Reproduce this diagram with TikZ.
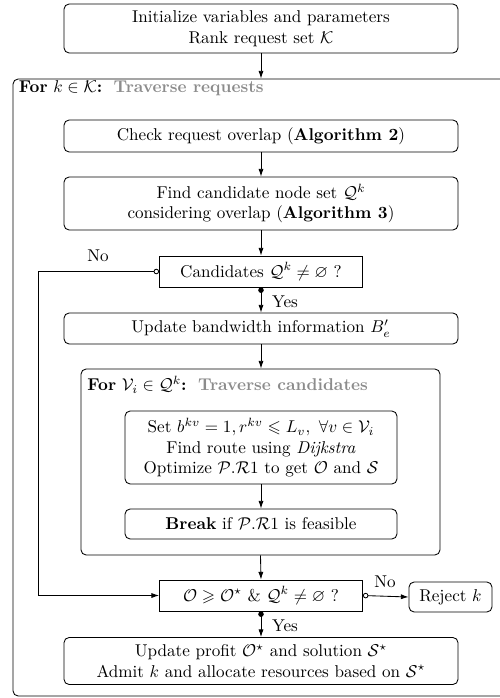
\documentclass[tikz,border=0pt]{standalone}
\usepackage{amsmath,amssymb}
\usetikzlibrary{arrows.meta}
\begin{document}
\def\pu{0.585pt}
\begin{tikzpicture}[x=0.585pt,y=-0.585pt,
  every path/.style={line width=0.5pt},
  rbox/.style={draw, rounded corners=3pt, align=center, inner sep=0pt},
  sbox/.style={draw, align=center, inner sep=0pt},
  arr/.style={-{Latex[length=4.5pt,width=3pt]}},
  yesarr/.style={{Circle[length=3.2pt]}-{Latex[length=4.5pt,width=3pt]}},
  noarr/.style={{Circle[open,length=3.2pt]}-{Latex[length=4.5pt,width=3pt]}},
  lab/.style={inner sep=0pt}
]
\useasboundingbox (0,0) rectangle (499,698);

\node[rbox, minimum width=394*\pu, minimum height=49*\pu] (init) at (261,28.5)
  {Initialize variables and parameters\\ Rank request set $\mathcal{K}$};

\node[rbox, minimum width=510*\pu, minimum height=617*\pu] (outer) at (268,387.5) {};
\node[lab, anchor=west] (outerlab) at (18.5,88.5) {\textbf{For} $k\in\mathcal{K}$\textbf{:}\ \ \textbf{\color{black!45}Traverse requests}};

\node[rbox, minimum width=394*\pu, minimum height=32*\pu] (check) at (261,136)
  {Check request overlap (\textbf{Algorithm 2})};
\node[rbox, minimum width=394*\pu, minimum height=53*\pu] (find) at (261,203.5)
  {Find candidate node set $\mathcal{Q}^k$\\ considering overlap (\textbf{Algorithm 3})};
\node[sbox, minimum width=203*\pu, minimum height=31*\pu] (cand) at (261,271.5)
  {Candidates $\mathcal{Q}^k\neq\varnothing$ ?};
\node[rbox, minimum width=394*\pu, minimum height=31*\pu] (upd) at (261,328.5)
  {Update bandwidth information $B'_e$};

\node[rbox, minimum width=359*\pu, minimum height=186*\pu] (inner) at (260.5,462) {};
\node[lab, anchor=west] (innerlab) at (87,385) {\textbf{For} $\mathcal{V}_i\in\mathcal{Q}^k$\textbf{:}\ \ \textbf{\color{black!45}Traverse candidates}};

\node[rbox, minimum width=272*\pu, minimum height=73*\pu] (set) at (261,447.5)
  {Set $b^{kv}=1, r^{kv}\leqslant L_v,\ \forall v\in\mathcal{V}_i$\\
   Find route using \textit{Dijkstra}\\
   Optimize $\mathcal{P}.\mathcal{R}1$ to get $\mathcal{O}$ and $\mathcal{S}$};
\node[rbox, minimum width=272*\pu, minimum height=30*\pu] (brk) at (261,524)
  {\textbf{Break} if $\mathcal{P}.\mathcal{R}1$ is feasible};

\node[sbox, minimum width=203*\pu, minimum height=31*\pu] (obox) at (261,595.5)
  {$\mathcal{O}\geqslant\mathcal{O}^\star$ \& $\mathcal{Q}^k\neq\varnothing$ ?};
\node[rbox, minimum width=83*\pu, minimum height=30*\pu] (rej) at (450.5,597)
  {Reject $k$};
\node[rbox, minimum width=394*\pu, minimum height=47*\pu] (final) at (261,661)
  {Update profit $\mathcal{O}^\star$ and solution $\mathcal{S}^\star$\\
   Admit $k$ and allocate resources based on $\mathcal{S}^\star$};

\coordinate (noleft) at (38,0);

\draw[arr] (init.south) -- (init.south |- outer.north);
\draw[arr] (check) -- (find);
\draw[arr] (find) -- (cand);
\draw[yesarr] (cand.south) -- (upd.north);
\draw[arr] (upd) -- (upd.south |- inner.north);
\draw[arr] (set) -- (brk);
\draw[arr] (inner.south) -- (obox.north);
\draw[noarr] (obox.east) -- (rej.west);
\draw[yesarr] (obox.south) -- (final.north);
\draw[noarr] (cand.west) -- (cand.west -| noleft) |- (obox.west);

\node[lab] (no1) at (98,256) {No};
\node[lab] (yes1) at (285,301.5) {Yes};
\node[lab] (no2) at (385,582) {No};
\node[lab] (yes2) at (285,626) {Yes};
\end{tikzpicture}
\end{document}
